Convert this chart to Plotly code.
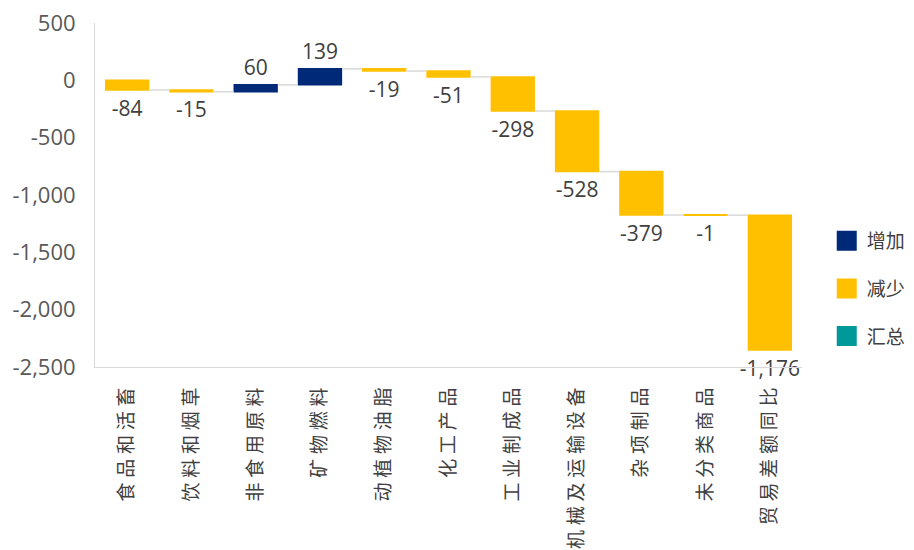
import plotly.graph_objects as go

# 商品类别与贸易差额同比变化
categories = ['食品和活畜', '饮料和烟草', '非食用原料', '矿物燃料', '动植物油脂',
              '化工产品', '工业制成品', '机械及运输设备', '杂项制品', '未分类商品',
              '贸易差额同比']
values = [-84, -15, 60, 139, -19, -51, -298, -528, -379, -1, -1176]

y_tickvals = [500, 0, -500, -1000, -1500, -2000, -2500]
y_ticktext = ['500', '0', '-500', '-1,000', '-1,500', '-2,000', '-2,500']

legend_names = ['增加', '减少', '汇总']
legend_colors = ['#002A78', '#FFC000', '#009999']

fig = go.Figure()

fig.add_trace(go.Waterfall(
    x=categories,
    y=values,
    measure=['relative'] * len(values),
    text=[f'{v:,}' for v in values],
    textposition='outside',
    constraintext='none',
    cliponaxis=False,
    textfont=dict(family='Open Sans', size=21, color='#404040'),
    increasing=dict(marker=dict(color='#002A78')),
    decreasing=dict(marker=dict(color='#FFC000')),
    totals=dict(marker=dict(color='#009999')),
    connector=dict(mode='between', line=dict(color='#D9D9D9', width=1.5)),
    showlegend=False,
    hoverinfo='x+y'
))

# legend entries
for name, color in zip(legend_names, legend_colors):
    fig.add_trace(go.Scatter(
        x=[None], y=[None],
        mode='markers',
        name=name,
        legendgroup=name,
        marker=dict(symbol='square', size=16, color=color,
                    line=dict(color=color, width=4))
    ))

fig.update_layout(
    width=914,
    height=550,
    margin=dict(l=95, r=112, t=23, b=183, autoexpand=False),
    plot_bgcolor='white',
    paper_bgcolor='white',
    waterfallgap=0.31,
    legend=dict(
        x=1.035, y=0.422, xanchor='left', yanchor='top',
        font=dict(family='Noto Sans CJK SC', size=19, color='#404040'),
        tracegroupgap=20,
        bgcolor='rgba(0,0,0,0)'
    ),
    xaxis=dict(
        tickangle=-90,
        tickvals=categories,
        ticktext=['\u2005'.join(c) for c in categories],
        tickfont=dict(family='Noto Sans CJK SC', size=19, color='#404040'),
        showline=True, linecolor='#D9D9D9', linewidth=1,
        showgrid=False, ticks='', ticklabelstandoff=12, automargin=False
    ),
    yaxis=dict(
        range=[-2500, 500],
        tickvals=y_tickvals,
        ticktext=y_ticktext,
        tickfont=dict(family='Open Sans', size=22, color='#595959'),
        showline=True, linecolor='#D9D9D9', linewidth=1,
        showgrid=False, zeroline=False, ticks='', ticklabelstandoff=14,
        automargin=False
    )
)

# drop the default 8px page margin so the figure sits at the window corner
fig.write_html('out.html', config={'displayModeBar': False},
               post_script="document.body.style.margin='0';")
